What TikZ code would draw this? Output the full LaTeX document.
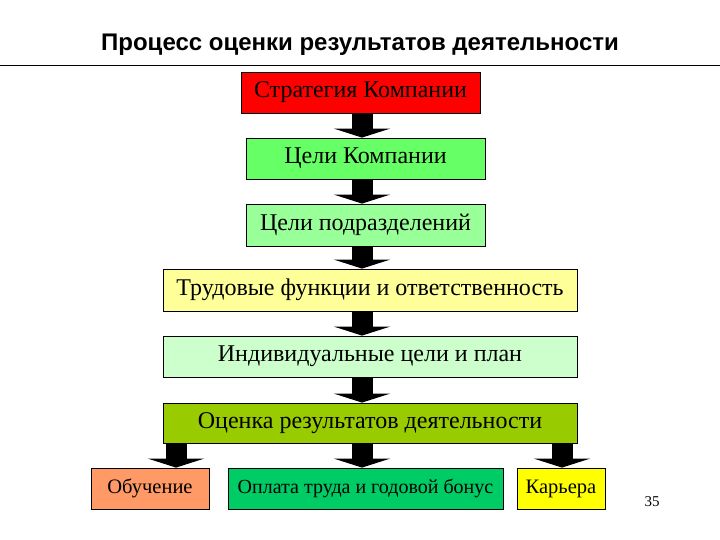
\documentclass[tikz,border=0pt]{standalone}
\usepackage{fontspec}
\setmainfont{Liberation Serif}
\newfontfamily\titlefont{Liberation Sans}
\usetikzlibrary{arrows.meta}
\definecolor{cRed}{HTML}{FF0000}
\definecolor{cGreenA}{HTML}{66FF66}
\definecolor{cGreenB}{HTML}{99FF99}
\definecolor{cYellowA}{HTML}{FFFF99}
\definecolor{cMint}{HTML}{CCFFCC}
\definecolor{cOlive}{HTML}{99CC00}
\definecolor{cSalmon}{HTML}{FF9966}
\definecolor{cGreenC}{HTML}{00CC66}
\definecolor{cYellowB}{HTML}{FFFF00}
\begin{document}
\begin{tikzpicture}[x=1pt, y=-1pt,
  box/.style={draw, line width=0.8pt, inner sep=0pt, minimum height=41pt,
    font=\fontsize{24}{27}\selectfont},
  small/.style={box, font=\fontsize{20.5}{23}\selectfont},
  fat/.style={line width=21pt, -{Triangle[width=56pt, length=9pt]}}]
\useasboundingbox (0,0) rectangle (720,540);

\node[font=\titlefont\bfseries\fontsize{24}{27}\selectfont] (t) at (360,45) {Процесс оценки результатов деятельности};
\coordinate (l1) at (0,66);
\coordinate (l2) at (720,66);
\draw[line width=1pt] (l1) -- (l2);

\node[box, fill=cRed, minimum width=239pt] (s) at (360.5,92.5) {Стратегия Компании};
\node[box, fill=cGreenA, minimum width=239pt] (g) at (365.5,158.5) {Цели Компании};
\node[box, fill=cGreenB, minimum width=239pt, minimum height=42pt] (u) at (365.5,225) {Цели подразделений};
\node[box, fill=cYellowA, minimum width=414pt, minimum height=42pt] (f) at (370,290) {Трудовые функции и ответственность};
\node[box, fill=cMint, minimum width=414pt] (i) at (370,356.5) {Индивидуальные цели и план};
\node[box, fill=cOlive, minimum width=414pt, minimum height=40pt] (e) at (370,423) {Оценка результатов деятельности};

\node[small, fill=cSalmon, minimum width=118pt] (o) at (150,488.5) {Обучение};
\node[small, fill=cGreenC, minimum width=275pt, font=\fontsize{20}{23}\selectfont] (p) at (365.5,488.5) {Оплата труда и годовой бонус};
\node[small, fill=cYellowB, minimum width=88pt] (k) at (561,488.5) {Карьера};
\node[font=\fontsize{15}{17}\selectfont] (n) at (652,502) {35};

% arrows
\coordinate (ax) at (362,0);
\coordinate (al) at (176,0);
\coordinate (ar) at (562,0);
\draw[fat] (s.south -| ax) -- (g.north -| ax);
\draw[fat] (g.south -| ax) -- (u.north -| ax);
\draw[fat] (u.south -| ax) -- (f.north -| ax);
\draw[fat] (f.south -| ax) -- (i.north -| ax);
\draw[fat] (i.south -| ax) -- (e.north -| ax);
\draw[fat] (e.south -| al) -- (o.north -| al);
\draw[fat] (e.south -| ax) -- (p.north -| ax);
\draw[fat] (e.south -| ar) -- (k.north -| ar);
\end{tikzpicture}
\end{document}
